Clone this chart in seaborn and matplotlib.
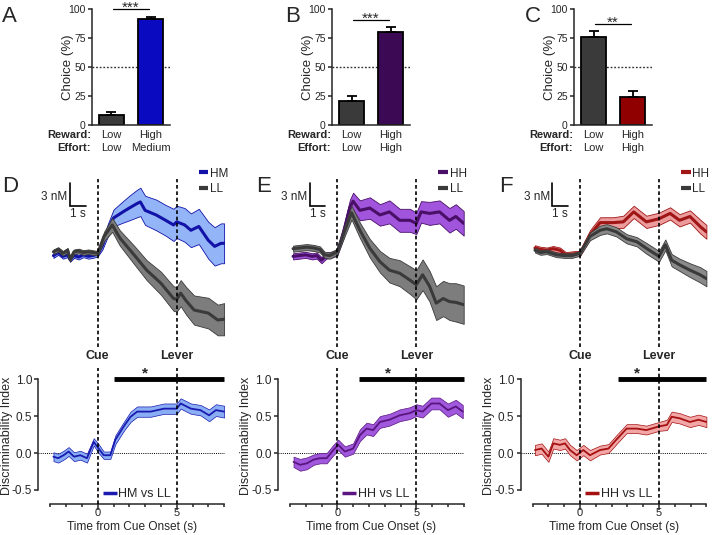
import matplotlib
matplotlib.use("Agg")
import matplotlib.pyplot as plt
from matplotlib.lines import Line2D
import numpy as np
import pandas as pd
import seaborn as sns

# ---------------- bar data (A, B, C) ----------------
reward_levels = ["Low", "High"]
effort_A = ["Low", "Medium"]
effort_B = ["Low", "High"]
effort_C = ["Low", "High"]
choice_A = [9, 91]
choice_A_sem = [2.5, 2.5]
choice_B = [20.5, 80]
choice_B_sem = [4.5, 4.5]
choice_C = [76, 24.5]
choice_C_sem = [5, 5]

# ---------------- dopamine traces (nM) ----------------
d_hm_t = [-2.8, -2.5, -2.2, -1.9, -1.75, -1.5, -1.2, -0.9, -0.6, -0.3, 0.0, 0.3, 0.6, 1.0, 1.6, 2.0, 2.5, 2.7,
          3.0, 3.7, 4.3, 4.8, 5.0, 5.5, 5.9, 6.4, 7.0, 7.4, 7.8, 8.0]
d_hm = [-0.3, 0.1, -0.4, -0.2, -0.8, -0.3, -0.5, -0.2, -0.4, -0.3, -0.1, 1.0, 2.8, 4.6, 5.4, 5.9, 6.5, 6.7,
        5.6, 5.0, 4.3, 3.7, 4.1, 3.7, 3.0, 3.5, 1.7, 0.9, 1.3, 1.3]
d_hm_sem = [0.3, 0.3, 0.3, 0.3, 0.3, 0.3, 0.3, 0.3, 0.3, 0.3, 0.3, 0.5, 0.8, 1.1, 1.4, 1.6, 1.8, 1.85,
            1.9, 2.0, 2.0, 2.1, 2.1, 2.2, 2.2, 2.3, 2.4, 2.5, 2.6, 2.6]
d_ll_t = [-2.8, -2.5, -2.2, -1.9, -1.75, -1.5, -1.2, -0.9, -0.6, -0.3, 0.0, 0.4, 0.92, 1.4, 2.3, 3.1, 4.0,
          4.8, 5.0, 5.25, 5.6, 6.1, 7.0, 7.6, 8.0]
d_ll = [0.2, 0.5, 0.0, 0.4, -0.8, 0.2, 0.3, 0.1, 0.2, 0.1, 0.0, 2.2, 3.7, 2.0, -0.2, -2.2, -3.9,
        -5.9, -6.0, -5.2, -6.2, -7.4, -7.8, -8.7, -8.6]
d_ll_sem = [0.3, 0.3, 0.3, 0.3, 0.3, 0.3, 0.3, 0.3, 0.3, 0.3, 0.3, 0.6, 0.9, 1.0, 1.2, 1.3, 1.5,
            1.6, 1.6, 1.7, 1.8, 1.9, 2.0, 2.0, 2.1]

e_hh_t = [-2.8, -2.4, -2.0, -1.6, -1.3, -1.0, -0.7, -0.4, 0.0, 0.4, 0.8, 1.0, 1.43, 2.06, 2.7, 3.3, 3.95,
          4.6, 5.0, 5.3, 5.84, 6.47, 7.1, 7.5, 8.0]
e_hh = [-0.4, -0.3, -0.2, -0.4, -0.3, -0.9, -0.3, -0.2, 0.1, 2.8, 6.0, 6.8, 5.6, 5.9, 5.0, 5.4, 4.3,
        4.3, 3.9, 5.4, 5.2, 5.4, 4.3, 4.8, 3.9]
e_hh_sem = [0.4, 0.4, 0.4, 0.4, 0.4, 0.4, 0.4, 0.4, 0.4, 0.8, 1.0, 1.1, 1.3, 1.4, 1.4, 1.5, 1.5,
            1.5, 1.4, 1.4, 1.5, 1.5, 1.6, 1.6, 1.6]
e_ll_t = [-2.8, -2.4, -1.93, -1.5, -1.1, -0.8, -0.46, 0.0, 0.48, 0.9, 1.43, 2.06, 2.7, 3.3, 3.95, 4.6,
          5.0, 5.4, 5.84, 6.26, 6.7, 7.1, 7.5, 8.0]
e_ll = [0.6, 0.7, 0.8, 0.7, 0.5, -0.2, -0.3, 0.2, 3.0, 5.3, 3.0, 0.65, -1.1, -2.2, -2.6, -3.5,
        -4.1, -2.8, -4.3, -6.5, -5.9, -6.3, -6.4, -6.7]
e_ll_sem = [0.4, 0.4, 0.4, 0.4, 0.4, 0.4, 0.4, 0.4, 0.7, 0.9, 1.0, 1.2, 1.4, 1.6, 1.7, 1.8,
            1.9, 2.0, 2.0, 2.2, 2.3, 2.4, 2.5, 2.5]

f_hh_t = [-2.85, -2.5, -2.1, -1.7, -1.27, -0.9, -0.5, 0.0, 0.63, 1.27, 2.1, 2.74, 3.4, 4.2, 5.0, 5.7,
          6.3, 6.96, 7.6, 8.0]
f_hh = [0.7, 0.5, 0.4, 0.6, 0.4, -0.2, -0.1, 0.0, 2.4, 4.0, 4.0, 4.1, 5.4, 4.1, 4.5, 5.2,
        4.3, 4.8, 3.5, 2.8]
f_hh_sem = [0.35, 0.35, 0.35, 0.35, 0.35, 0.35, 0.35, 0.35, 0.6, 0.7, 0.7, 0.8, 0.8, 0.8, 0.8, 0.8,
            0.8, 0.8, 0.9, 0.9]
f_ll_t = [-2.85, -2.5, -2.1, -1.5, -1.0, -0.5, 0.0, 0.63, 1.27, 1.7, 2.3, 2.95, 3.6, 4.2, 5.0, 5.4,
          5.8, 6.3, 6.96, 7.6, 8.0]
f_ll = [0.4, 0.1, 0.2, -0.2, -0.3, -0.3, 0.0, 2.2, 3.0, 3.2, 2.8, 1.9, 1.5, 0.65, -0.4, 1.1,
        -0.9, -1.5, -2.2, -2.8, -3.3]
f_ll_sem = [0.3, 0.3, 0.3, 0.3, 0.3, 0.3, 0.3, 0.5, 0.6, 0.6, 0.6, 0.6, 0.6, 0.7, 0.7, 0.7,
            0.8, 0.8, 0.9, 1.0, 1.0]

# ---------------- discriminability index ----------------
di_d_t = [-2.8, -2.5, -2.16, -1.84, -1.5, -1.1, -0.68, -0.25, 0.06, 0.38, 0.8, 1.12, 1.65, 2.08, 2.5,
          3.35, 4.2, 5.0, 5.25, 5.9, 6.5, 7.05, 7.48, 8.0]
di_d = [-0.05, -0.07, -0.03, 0.02, -0.05, -0.03, -0.07, 0.15, 0.06, -0.03, -0.03, 0.18, 0.36, 0.49, 0.56,
        0.56, 0.60, 0.60, 0.67, 0.60, 0.58, 0.51, 0.58, 0.56]
di_d_sem = [0.06, 0.06, 0.06, 0.06, 0.06, 0.06, 0.06, 0.05, 0.06, 0.05, 0.05, 0.06, 0.06, 0.07, 0.07,
            0.07, 0.07, 0.07, 0.07, 0.07, 0.07, 0.08, 0.08, 0.08]
di_e_t = [-2.77, -2.35, -1.93, -1.5, -1.1, -0.67, -0.25, 0.06, 0.48, 1.0, 1.43, 1.85, 2.27, 2.7, 3.3,
          3.95, 4.6, 5.0, 5.4, 5.95, 6.47, 7.0, 7.5, 7.94]
di_e = [-0.12, -0.16, -0.14, -0.09, -0.07, -0.07, 0.04, 0.11, 0.02, 0.06, 0.24, 0.33, 0.31, 0.42, 0.45,
        0.51, 0.54, 0.58, 0.56, 0.67, 0.67, 0.58, 0.63, 0.56]
di_e_sem = [0.07, 0.08, 0.08, 0.07, 0.07, 0.07, 0.07, 0.07, 0.07, 0.07, 0.08, 0.08, 0.08, 0.08, 0.08,
            0.08, 0.08, 0.08, 0.08, 0.08, 0.08, 0.09, 0.09, 0.09]
di_f_t = [-2.85, -2.43, -2.0, -1.69, -1.27, -0.95, -0.63, -0.21, 0.21, 0.63, 1.27, 1.8, 2.3, 2.95, 3.6,
          4.2, 5.0, 5.5, 5.8, 6.3, 6.96, 7.5, 8.0]
di_f = [0.04, 0.06, -0.05, 0.13, 0.11, 0.13, 0.04, -0.03, 0.04, -0.03, 0.04, 0.06, 0.18, 0.33, 0.33,
        0.31, 0.36, 0.38, 0.49, 0.47, 0.42, 0.45, 0.42]
di_f_sem = [0.07, 0.07, 0.07, 0.07, 0.07, 0.07, 0.07, 0.07, 0.07, 0.07, 0.06, 0.06, 0.06, 0.06, 0.06,
            0.06, 0.06, 0.07, 0.07, 0.07, 0.07, 0.07, 0.07]

sns.set_style("ticks")
plt.rcParams['font.family'] = ['Liberation Sans', 'DejaVu Sans']
plt.rcParams['axes.linewidth'] = 1.1

W, H = 714, 535
fig = plt.figure(figsize=(W / 100, H / 100), dpi=100)


def px_axes(left, top, width, height):
    return fig.add_axes([left / W, 1 - (top + height) / H, width / W, height / H])


def fig_text(x, y, s, **kw):
    fig.text(x / W, 1 - y / H, s, **kw)


gray_bar = "#3a3a3a"
dash = (0, (2.2, 1.6))

# ---------------- bar panels ----------------
bar_panels = [
    ("A", 2, 92, choice_A, choice_A_sem, effort_A, "#0a0ac0", 100, "***"),
    ("B", 285, 332, choice_B, choice_B_sem, effort_B, "#3c0a55", 90.5, "***"),
    ("C", 525, 574, choice_C, choice_C_sem, effort_C, "#900000", 87, "**"),
]
for letter, lx, left, vals, sems, effort, hicol, sig_y, stars in bar_panels:
    ax = px_axes(left, 9, 78, 116)
    df = pd.DataFrame({"reward": reward_levels, "choice": vals})
    ax.plot([-0.5, 1.5], [50, 50], ls=(0, (1.3, 1.3)), lw=1.0, color="#333333", zorder=1)
    sns.barplot(data=df, x="reward", y="choice", hue="reward", palette=[gray_bar, hicol], legend=False,
                width=0.65, saturation=1, edgecolor="black", linewidth=1.3, ax=ax, zorder=2)
    ax.errorbar([0, 1], vals, yerr=[[0, 0], sems], fmt="none", ecolor="black", elinewidth=1.3,
                capsize=3.5, capthick=1.3, zorder=3)
    ax.set_xlim(-0.5, 1.5)
    ax.set_ylim(0, 100)
    ax.set_yticks([0, 25, 50, 75, 100])
    ax.set_xlabel("")
    ax.set_ylabel("Choice (%)", fontsize=9.5)
    ax.yaxis.set_label_coords(-0.23, 0.5)
    sns.despine(ax=ax)
    ax.tick_params(axis="y", length=3, width=1.1, labelsize=7.5, pad=1.5)
    ax.tick_params(axis="x", length=0, labelbottom=False)
    tr = ax.get_xaxis_transform()
    for i in range(2):
        ax.text(i, -0.086, reward_levels[i], transform=tr, ha="center", va="center", fontsize=8)
        ax.text(i, -0.198, effort[i], transform=tr, ha="center", va="center", fontsize=8)
    ax.text(-0.53, -0.086, "Reward:", transform=tr, ha="right", va="center", fontsize=8, weight="bold")
    ax.text(-0.53, -0.198, "Effort:", transform=tr, ha="right", va="center", fontsize=8, weight="bold")
    ax.plot([0.03, 0.95], [sig_y, sig_y], color="black", lw=0.9, clip_on=False)
    ax.text(0.49, sig_y - 2.5, stars, ha="center", va="baseline", fontsize=11, clip_on=False)
    fig_text(lx, 21.7, letter, fontsize=16, va="baseline", ha="left")

# ---------------- trace panels ----------------
PX_S = 15.8
trace_panels = [
    dict(letter="D", lx=2, cue=97.7, hi="HM",
         traces=[(d_hm_t, d_hm, d_hm_sem, "#1212a8", "#93b5f7"),
                 (d_ll_t, d_ll, d_ll_sem, "#3a3a3a", "#7d7d7d")],
         di=(di_d_t, di_d, di_d_sem, "#1a1ab0", "#8aaef4"), sig=1.0, star=3.0),
    dict(letter="E", lx=256, cue=337.3, hi="HH",
         traces=[(e_hh_t, e_hh, e_hh_sem, "#4a0f66", "#a055dc"),
                 (e_ll_t, e_ll, e_ll_sem, "#3a3a3a", "#7d7d7d")],
         di=(di_e_t, di_e, di_e_sem, "#5a1580", "#a058dc"), sig=1.4, star=3.2),
    dict(letter="F", lx=499, cue=580.0, hi="HH",
         traces=[(f_hh_t, f_hh, f_hh_sem, "#a01515", "#ec9c9c"),
                 (f_ll_t, f_ll, f_ll_sem, "#3a3a3a", "#8a8a8a")],
         di=(di_f_t, di_f, di_f_sem, "#a51010", "#f2a6a6"), sig=2.4, star=3.6),
]

for p in trace_panels:
    left = p["cue"] - 3.75 * PX_S
    width = 11.8 * PX_S

    # top: dopamine traces
    ax = px_axes(left, 172, width, 176)
    z = 1
    for t, m, s, lc, fc in p["traces"]:
        t = np.array(t); m = np.array(m); s = np.array(s)
        ax.fill_between(t, m - s, m + s, facecolor=fc, edgecolor=lc, lw=0.6, zorder=z)
        sns.lineplot(x=t, y=m, color=lc, lw=2.2, ax=ax, zorder=z + 1, legend=False)
        z += 2
    ax.set_xlim(-3.75, 8.05)
    ax.set_ylim(-12.35, 10.6)
    ax.axis("off")
    for xv, lab in [(0, "Cue"), (5, "Lever")]:
        ax.plot([xv, xv], [-12.2, 9.7], ls=dash, color="black", lw=1.2, zorder=10)
        ax.text(xv, -13.4, lab, ha="center", va="center", fontsize=9, weight="bold", clip_on=False)
    ax.plot([-1.75, -1.75, -0.75], [9.2, 6.2, 6.2], color="black", lw=1.2, solid_joinstyle="miter")
    ax.text(-1.9, 7.4, "3 nM", ha="right", va="center", fontsize=8.5)
    ax.text(-1.25, 5.9, "1 s", ha="center", va="top", fontsize=8.5)
    handles = [Line2D([], [], color=p["traces"][0][3], lw=3, solid_capstyle="butt"),
               Line2D([], [], color=p["traces"][1][3], lw=3, solid_capstyle="butt")]
    ax.legend(handles, [p["hi"], "LL"], loc="upper left", bbox_to_anchor=(0.86, 1.025), frameon=False,
              fontsize=8.5, handlelength=0.8, handletextpad=0.15, labelspacing=0.3, borderpad=0,
              borderaxespad=0)
    fig_text(p["lx"], 192, p["letter"], fontsize=16, va="baseline", ha="left")

    # bottom: discriminability index
    ax2 = px_axes(left, 368, width, 136)
    t, v, s, lc, fc = p["di"]
    t = np.array(t); v = np.array(v); s = np.array(s)
    ax2.plot([-3.75, 8.05], [0, 0], ls=(0, (1, 1.2)), lw=0.7, color="black", zorder=0.5)
    ax2.fill_between(t, v - s, v + s, facecolor=fc, edgecolor=lc, lw=0.5, zorder=1)
    sns.lineplot(x=t, y=v, color=lc, lw=1.3, ax=ax2, zorder=2, legend=False)
    ax2.axvline(0, ls=dash, color="black", lw=1.2, zorder=5)
    ax2.axvline(5, ls=dash, color="black", lw=1.2, zorder=5)
    ax2.plot([p["sig"], 8], [1.0, 1.0], color="black", lw=3.5, solid_capstyle="butt", clip_on=False, zorder=6)
    ax2.text(p["star"], 1.08, "*", ha="center", va="center", fontsize=11, weight="bold")
    ax2.set_xlim(-3.75, 8.05)
    ax2.set_ylim(-0.69, 1.15)
    sns.despine(ax=ax2)
    ax2.spines["left"].set_bounds(-0.5, 1.0)
    ax2.spines["bottom"].set_bounds(-3, 8)
    ax2.set_yticks([-0.5, 0, 0.5, 1.0])
    ax2.set_yticklabels(["-0.5", "0.0", "0.5", "1.0"])
    ax2.set_xticks([0, 5])
    ax2.set_xticks(range(-3, 9), minor=True)
    ax2.tick_params(axis="x", which="major", length=4.3, width=1.1, labelsize=8, pad=-1.2)
    ax2.tick_params(axis="x", which="minor", length=2.4, width=1.1)
    ax2.tick_params(axis="y", length=3, width=1.1, labelsize=8.5, pad=1.5)
    ax2.set_ylabel("Discriminability Index", fontsize=9)
    ax2.yaxis.set_label_coords(-0.139, 0.5)
    ax2.set_xlabel("Time from Cue Onset (s)", fontsize=8.6)
    ax2.xaxis.set_label_coords(0.5, -0.126)
    ax2.legend([Line2D([], [], color=lc, lw=2.5, solid_capstyle="butt")], [p["hi"] + " vs LL"],
               loc="center left", bbox_to_anchor=(0.345, 0.07), frameon=False, fontsize=9,
               handlelength=1.1, handletextpad=0.15, borderpad=0, borderaxespad=0)

fig.savefig("out.png", dpi=100)
